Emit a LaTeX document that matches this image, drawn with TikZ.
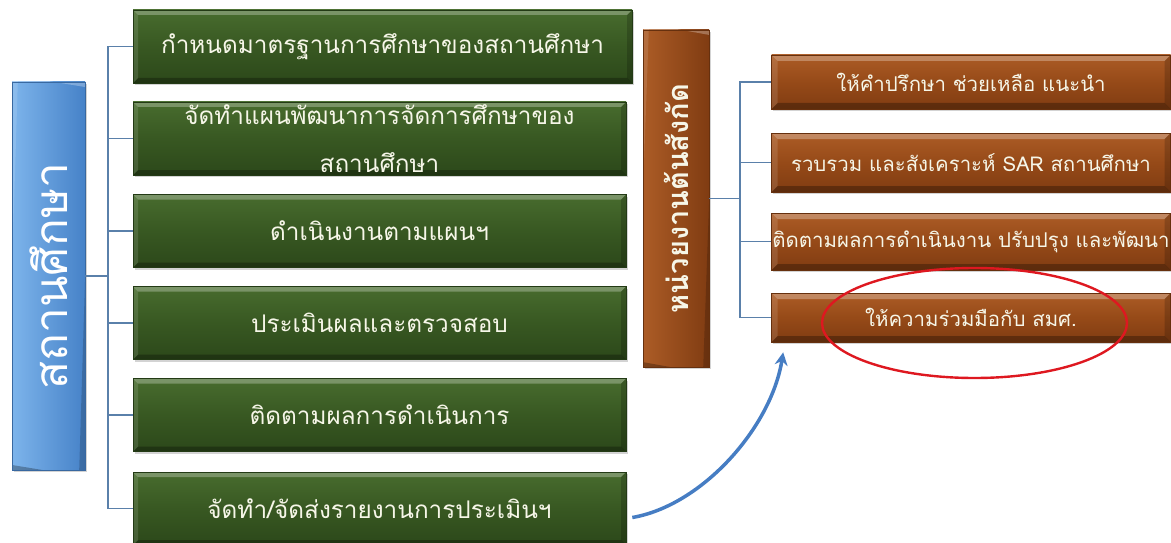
\documentclass[tikz,border=0pt]{standalone}
\usepackage{fontspec}
\newfontfamily\thai[Script=Thai]{Loma}
\usetikzlibrary{shadows,arrows.meta,calc,shapes.geometric}
\definecolor{gmain}{RGB}{56,88,34}
\definecolor{gtop}{RGB}{72,108,46}
\definecolor{gbot}{RGB}{44,72,26}
\definecolor{brmain}{RGB}{150,74,24}
\definecolor{brtop}{RGB}{172,92,38}
\definecolor{brbot}{RGB}{128,60,18}
\definecolor{bltop}{RGB}{125,180,235}
\definecolor{blbot}{RGB}{70,130,200}
\definecolor{linec}{RGB}{90,128,170}
\definecolor{txtc}{RGB}{246,246,232}
\definecolor{arrc}{RGB}{70,125,195}
\definecolor{redc}{RGB}{222,24,32}
\newcommand\mybevel[1]{%
 \fill[white,opacity=.28] (path picture bounding box.north west) -- (path picture bounding box.north east) -- ([shift={(-#1,-#1)}]path picture bounding box.north east) -- ([shift={(#1,-#1)}]path picture bounding box.north west) -- cycle;
 \fill[black,opacity=.28] (path picture bounding box.south west) -- (path picture bounding box.south east) -- ([shift={(-#1,#1)}]path picture bounding box.south east) -- ([shift={(#1,#1)}]path picture bounding box.south west) -- cycle;
 \fill[white,opacity=.12] (path picture bounding box.north west) -- (path picture bounding box.south west) -- ([shift={(#1,#1)}]path picture bounding box.south west) -- ([shift={(#1,-#1)}]path picture bounding box.north west) -- cycle;
 \fill[black,opacity=.18] (path picture bounding box.north east) -- (path picture bounding box.south east) -- ([shift={(-#1,#1)}]path picture bounding box.south east) -- ([shift={(-#1,-#1)}]path picture bounding box.north east) -- cycle;
}
\tikzset{
 gbox/.style={top color=gtop, bottom color=gbot, middle color=gmain, draw=gbot!80!black, line width=0.6pt,
   minimum width=493pt, minimum height=73pt, inner sep=0pt, text=txtc, font=\thai\fontsize{24.3}{40}\selectfont,
   align=center, path picture={\mybevel{5pt}}, drop shadow={opacity=0.35, shadow xshift=1.5pt, shadow yshift=-2pt}},
 rbox/.style={top color=brtop, bottom color=brbot, middle color=brmain, draw=brbot!80!black, line width=0.6pt,
   minimum width=399pt, minimum height=56pt, inner sep=0pt, text=txtc, font=\thai\fontsize{20.4}{24}\selectfont,
   path picture={\mybevel{6pt}}, drop shadow={opacity=0.35, shadow xshift=1.5pt, shadow yshift=-2pt}},
 conn/.style={draw=linec, line width=1.1pt},
}
\begin{document}
\begin{tikzpicture}[x=1pt,y=-1pt]
\useasboundingbox (0,0) rectangle (1171,543);
% left blue box
\node[rotate=90, left color=bltop, right color=blbot, draw=blbot!80!black, line width=0.6pt,
  minimum width=388pt, minimum height=73pt, inner sep=0pt, text=white,
  font=\thai\fontsize{46}{52}\selectfont, path picture={\mybevel{6pt}},
  drop shadow={opacity=0.35, shadow xshift=2pt, shadow yshift=-2pt}] (school) at (48.5,276) {สถานศึกษา};
% green boxes
\node[gbox, minimum width=499pt] (g1) at (382.5,46.5) {กำหนดมาตรฐานการศึกษาของสถานศึกษา};
\node[gbox] (g2) at (379.5,138.5) {\raisebox{8pt}{จัดทำแผนพัฒนาการจัดการศึกษาของ}\\สถานศึกษา};
\node[gbox] (g3) at (379.5,231) {ดำเนินงานตามแผนฯ};
\node[gbox] (g4) at (379.5,323) {ประเมินผลและตรวจสอบ};
\node[gbox] (g5) at (379.5,415) {ติดตามผลการดำเนินการ};
\node[gbox] (g6) at (379.5,508.5) {จัดทำ/จัดส่งรายงานการประเมินฯ};
% left connectors
\coordinate (tk) at (108,0);
\draw[conn] (school.south) -- (school.south -| tk);
\draw[conn] (g1.west) -- (g1.west -| tk) -- (g6.west -| tk) -- (g6.west);
\foreach \n in {g2,g3,g4,g5} \draw[conn] (\n.west) -- (\n.west -| tk);
% brown vertical box
\node[rotate=90, left color=brtop, right color=brbot, draw=brbot!80!black, line width=0.6pt,
  minimum width=337pt, minimum height=66pt, inner sep=0pt, text=txtc,
  font=\thai\bfseries\fontsize{29}{34}\selectfont, path picture={\mybevel{6pt}},
  drop shadow={opacity=0.35, shadow xshift=2pt, shadow yshift=-2pt}] (agency) at (676,198.5) {หน่วยงานต้นสังกัด};
% right brown boxes
\node[rbox, minimum height=54pt] (r1) at (971,82) {ให้คำปรึกษา ช่วยเหลือ แนะนำ};
\node[rbox, minimum height=59pt] (r2) at (971,162.5) {รวบรวม และสังเคราะห์ SAR สถานศึกษา};
\node[rbox, minimum height=57pt] (r3) at (971,241.5) {ติดตามผลการดำเนินงาน ปรับปรุง และพัฒนา};
\node[rbox, minimum height=49pt] (r4) at (971,317.5) {ให้ความร่วมมือกับ สมศ.};
% right connectors
\coordinate (rk) at (740,0);
\draw[conn] (agency.south) -- (agency.south -| rk);
\draw[conn] (r1.west) -- (r1.west -| rk) -- (r4.west -| rk) -- (r4.west);
\foreach \n in {r2,r3} \draw[conn] (\n.west) -- (\n.west -| rk);
% red ellipse
\node[draw=redc, ellipse, line width=2.4pt, minimum width=305pt, minimum height=110pt] (ring) at (974.5,323) {};
% blue curved arrow
\draw[draw=arrc, line width=3.5pt, -{Stealth[length=13pt,width=13pt]}]
  ([shift={(6pt,-9pt)}]g6.east) .. controls +(70,-12) and +(-12,75) .. ([shift={(12pt,-10pt)}]r4.south west);
\end{tikzpicture}
\end{document}
